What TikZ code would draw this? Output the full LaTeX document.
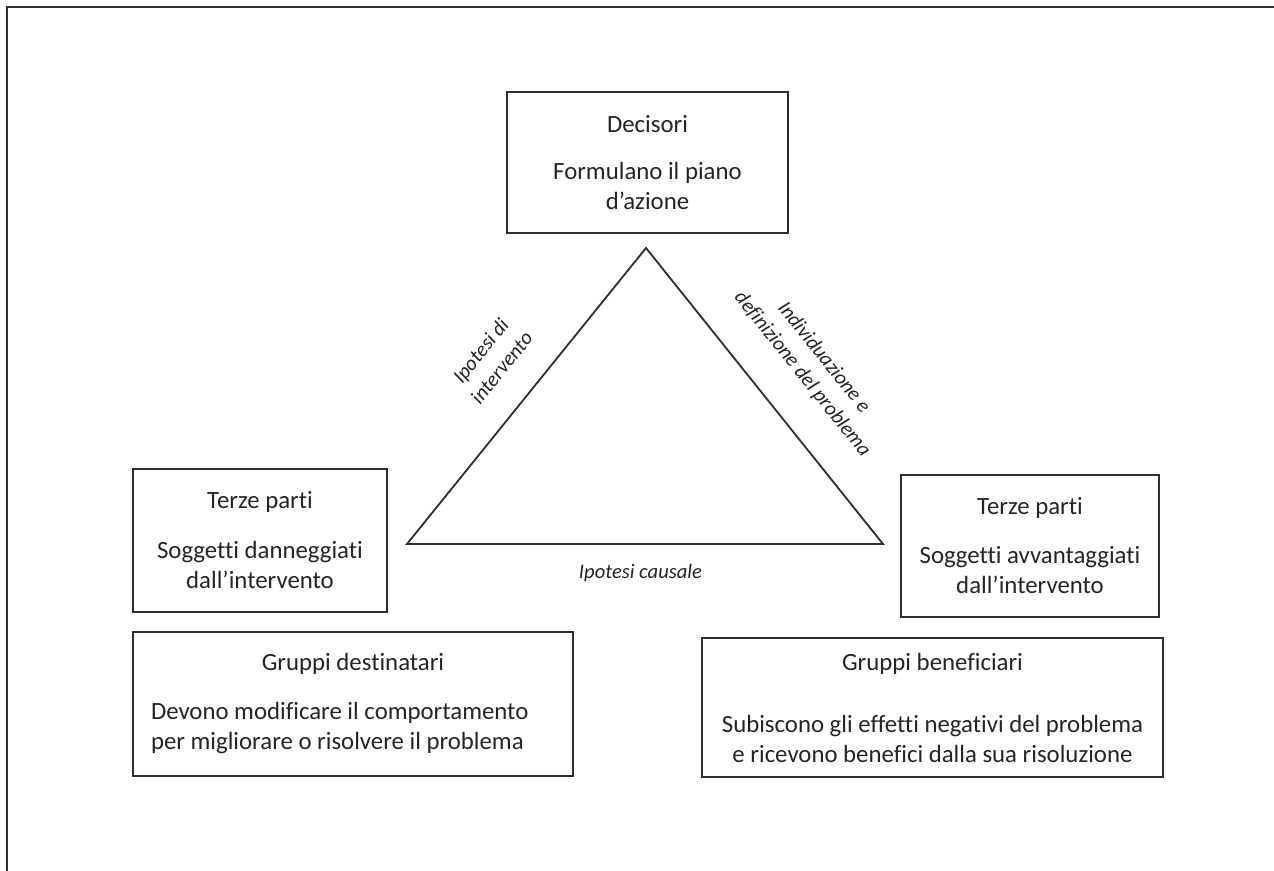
\documentclass[tikz,border=0pt]{standalone}
\usepackage{fontspec}
\setmainfont{Carlito}[Ligatures=NoCommon]
\begin{document}
\begin{tikzpicture}[x=0.5pt, y=-0.5pt,
    actorbox/.style={draw=linecolor, line width=0.9pt, text=textcolor, align=center,
      font=\fontsize{12.4}{15}\selectfont, inner sep=0pt},
    edgelabel/.style={text=textcolor, align=center,
      font=\fontsize{10.3}{13.5}\selectfont\itshape, inner sep=0pt}]
  % Define colors
  \colorlet{linecolor}{black!82}
  \colorlet{textcolor}{black!86}

  % Page and frame
  \useasboundingbox (0,0) rectangle (1274,871);
  \draw[linecolor, line width=1.2pt] (7,871) -- (7,7) -- (1274,7);

  % Triangle corners
  \coordinate (apex) at (646,248);
  \coordinate (baseL) at (407,544);
  \coordinate (baseR) at (883,544);
  \draw[linecolor, line width=0.9pt] (baseL) -- (apex) -- (baseR) -- cycle;

  % Side labels
  \node[edgelabel, rotate=51.1] (intervento) at (491,359) {Ipotesi di\\intervento};
  \node[edgelabel, rotate=-51.3] (problema) at (813,366) {Individuazione e\\definizione del problema};
  \node[edgelabel] (causale) at (640.5,573) {Ipotesi causale};

  % Actors
  \node[actorbox, minimum width=140.5pt, minimum height=70.5pt] (decisori) at (647.5,162.5)
    {Decisori\\[8.5pt]Formulano il piano\\d’azione};
  \node[actorbox, minimum width=127pt, minimum height=71.5pt] (terzeL) at (260,540.5)
    {Terze parti\\[10pt]Soggetti danneggiati\\dall’intervento};
  \node[actorbox, minimum width=129pt, minimum height=71pt] (terzeR) at (1030,546)
    {Terze parti\\[9.5pt]Soggetti avvantaggiati\\dall’intervento};
  \node[actorbox, align=left, inner xsep=9pt, minimum height=72pt] (destinatari) at (353,704)
    {\makebox[202pt]{Gruppi destinatari}\\[9.5pt]Devono modificare il comportamento\\per migliorare o risolvere il problema};
  \node[actorbox, minimum width=230.5pt, minimum height=69.5pt] (beneficiari) at (932.5,707.5)
    {Gruppi beneficiari\\[16pt]Subiscono gli effetti negativi del problema\\e ricevono benefici dalla sua risoluzione};
\end{tikzpicture}
\end{document}
